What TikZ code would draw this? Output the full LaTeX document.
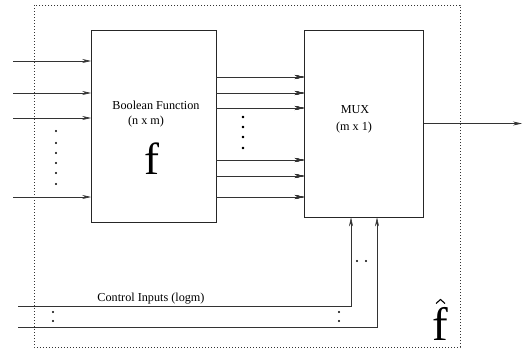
\documentclass[tikz,border=0pt]{standalone}
\usepackage{fontspec}
\setmainfont{Liberation Serif}
\usetikzlibrary{arrows.meta}

\tikzset{
  block/.style={draw=black!85, line width=0.7pt, minimum width=124.5pt, minimum height=192pt, inner sep=0pt},
  sig/.style={draw=black!80, line width=0.6pt, -{Stealth[length=9pt,width=4pt,inset=3pt]}},
  lbl/.style={font=\fontsize{12.2}{14}\selectfont, inner sep=0pt},
}
\newcommand{\dotpt}[2]{\fill (#1,#2) circle (1.2pt);}

\begin{document}
\begin{tikzpicture}[x=1pt,y=-1pt]
\useasboundingbox (0,0) rectangle (529,354);
% outer dotted frame
\draw[line width=0.8pt, dash pattern=on 0.8pt off 2.2pt, black!80] (34,5) rectangle (460,347);
% blocks
\node[block] (f) at (153.75,126) {};
\node[block, minimum width=119.5pt, minimum height=187pt] (mux) at (364,123.5) {};
\node[lbl] (bfname) at (156,105) {Boolean Function};
\node[lbl] (bfsize) at (146,122) {(n x m)};
\node[font=\fontsize{45}{45}\selectfont, inner sep=0pt, anchor=base] (fsym) at (152,174) {f};
\node[lbl] (muxname) at (355,110) {MUX};
\node[lbl] (muxsize) at (354,128) {(m x 1)};
% inputs of f
\foreach \y in {61,93,118,197} {
  \coordinate (in\y) at (13,\y);
  \draw[sig] (in\y) -- (in\y -| f.west);
}
\foreach \y in {131,143,153,163,173,184} \dotpt{56}{\y}
% f to mux
\foreach \y in {77,93,108,160,176,197} {
  \coordinate (fo\y) at (f.east |- 0,\y);
  \draw[sig] (fo\y) -- (fo\y -| mux.west);
}
\foreach \y in {117,127,137,148} \dotpt{243}{\y}
% output
\coordinate (out) at (522,123.5);
\draw[sig] (mux.east) -- (out);
% control inputs
\coordinate (c1) at (18,306);
\coordinate (c2) at (18,327);
\draw[sig] (c1) -| ([xshift=-13pt]mux.south);
\draw[sig] (c2) -| ([xshift=13pt]mux.south);
\node[lbl, anchor=base] (ctl) at (151,301) {Control Inputs (logm)};
\dotpt{53}{312} \dotpt{53}{321}
\dotpt{339}{312} \dotpt{339}{321}
\dotpt{357}{261} \dotpt{366}{261}
% f hat
\node[font=\fontsize{47}{47}\selectfont, inner sep=0pt, anchor=base] (fhat) at (440,340) {f};
\draw[line width=1.1pt] (436,303.5) -- (440.5,299.5) -- (445,303.5);
\end{tikzpicture}
\end{document}
